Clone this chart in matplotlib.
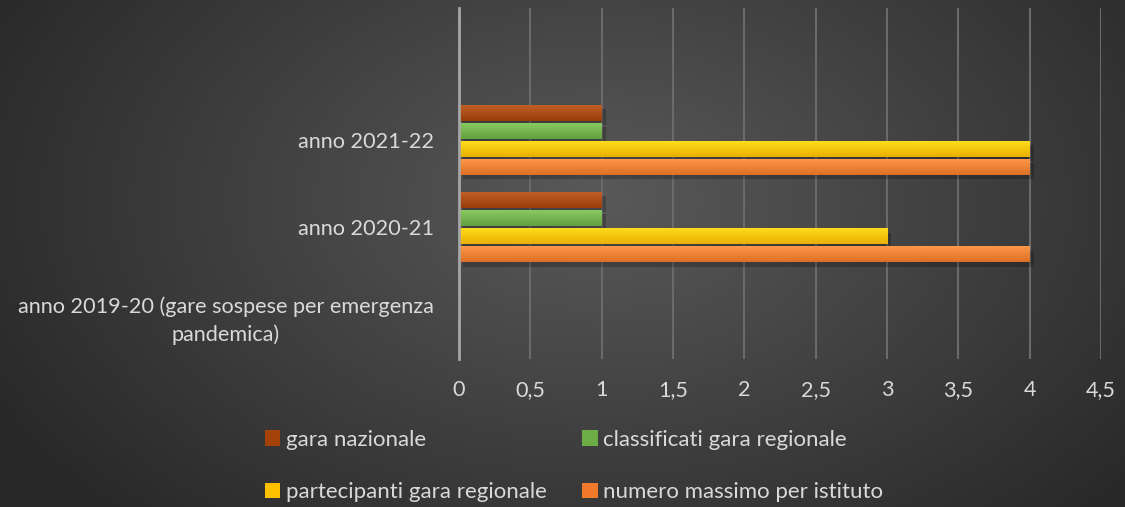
import numpy as np
import matplotlib
matplotlib.use("Agg")
import matplotlib.pyplot as plt
from matplotlib.colors import to_rgb
from matplotlib.patches import Patch
import matplotlib.patheffects as pe

plt.rcParams['font.family'] = ['Lato', 'DejaVu Sans']

categories = ["anno 2019-20 (gare sospese per emergenza\npandemica)", "anno 2020-21", "anno 2021-22"]
series_names = ["gara nazionale", "classificati gara regionale",
                "partecipanti gara regionale", "numero massimo per istituto"]
gara_nazionale = [0, 1, 1]
classificati = [0, 1, 1]
partecipanti = [0, 3, 4]
numero_massimo = [0, 4, 4]
series_values = [gara_nazionale, classificati, partecipanti, numero_massimo]
colors = ["#A5420A", "#6CAE45", "#FFC000", "#F07A2A"]
xticks = [0, 0.5, 1, 1.5, 2, 2.5, 3, 3.5, 4, 4.5]
xtick_labels = ["0", "0,5", "1", "1,5", "2", "2,5", "3", "3,5", "4", "4,5"]

W, H = 1125, 507
fig = plt.figure(figsize=(W / 100, H / 100), dpi=100)

# background radial gradient
bg = fig.add_axes([0, 0, 1, 1], zorder=-10)
yy, xx = np.mgrid[0:H, 0:W]
cx, cy = 600, 200
r = np.sqrt(((xx - cx) / 650.0) ** 2 + ((yy - cy) / 420.0) ** 2)
val = 0.35 - 0.18 * np.clip(r, 0, 1.2)
val = np.clip(val, 0.16, 0.36)
bg.imshow(np.dstack([val, val, val]), aspect='auto', extent=[0, 1, 0, 1], origin='upper')
bg.axis('off')

ax = fig.add_axes([459 / W, 1 - 359 / H, (1101 - 459) / W, (359 - 8) / H])
ax.set_facecolor('none')
ax.patch.set_alpha(0)

n = len(series_names)
pitch = 18 / 87.5  # in category units
bar_h = 16 / 87.5
y = np.arange(len(categories))
for i, (name, vals, c) in enumerate(zip(series_names, series_values, colors)):
    offs = (n - 1) / 2 * pitch - i * pitch
    bars = ax.barh(y + offs, vals, height=bar_h, color=c, label=name, zorder=3,
                   path_effects=[pe.SimplePatchShadow(offset=(3, -3), shadow_rgbFace='black', alpha=0.22),
                                 pe.Normal()])
    base = np.array(to_rgb(c))
    light = np.clip(base + 0.12, 0, 1)
    dark = base * 0.92
    grad = np.linspace(0, 1, 32)[:, None]
    img = light[None, None, :] * (1 - grad[..., None]) + dark[None, None, :] * grad[..., None]
    for p in bars.patches:
        if p.get_width() <= 0:
            continue
        x0, y0 = p.get_x(), p.get_y()
        w, h = p.get_width(), p.get_height()
        im = ax.imshow(img, extent=[x0, x0 + w, y0, y0 + h], origin='upper',
                       aspect='auto', zorder=4, interpolation='bilinear')
        im.set_clip_path(p)

ax.set_xlim(0, 4.5)
ax.set_ylim(-0.5, 3.5)
ax.set_xticks(xticks)
ax.set_xticklabels(xtick_labels)
ax.set_yticks(y)
ax.set_yticklabels(categories, multialignment='center', linespacing=1.45)
ax.grid(axis='x', color='#6A6A6A', linewidth=1.5, zorder=0)
ax.tick_params(axis='both', length=0, colors='#D9D9D9', labelsize=15.6)
ax.tick_params(axis='x', pad=15)
ax.tick_params(axis='y', pad=18)
for s in ['top', 'right', 'bottom']:
    ax.spines[s].set_visible(False)
ax.spines['left'].set_color('#A6A6A6')
ax.spines['left'].set_linewidth(2)
ax.spines['left'].set_zorder(5)

handles = [Patch(facecolor=c, edgecolor='none') for c in colors]
order = [0, 2, 1, 3]  # row-major filling in a 2-column legend
leg = fig.legend([handles[k] for k in order], [series_names[k] for k in order],
                 loc='center', bbox_to_anchor=(574 / W, 1 - 466 / H),
                 ncol=2, frameon=False, fontsize=16, labelcolor='#D9D9D9',
                 handlelength=0.7, handleheight=0.7, handletextpad=0.25,
                 columnspacing=1.6, labelspacing=1.45)

fig.savefig('out.png', dpi=100)
